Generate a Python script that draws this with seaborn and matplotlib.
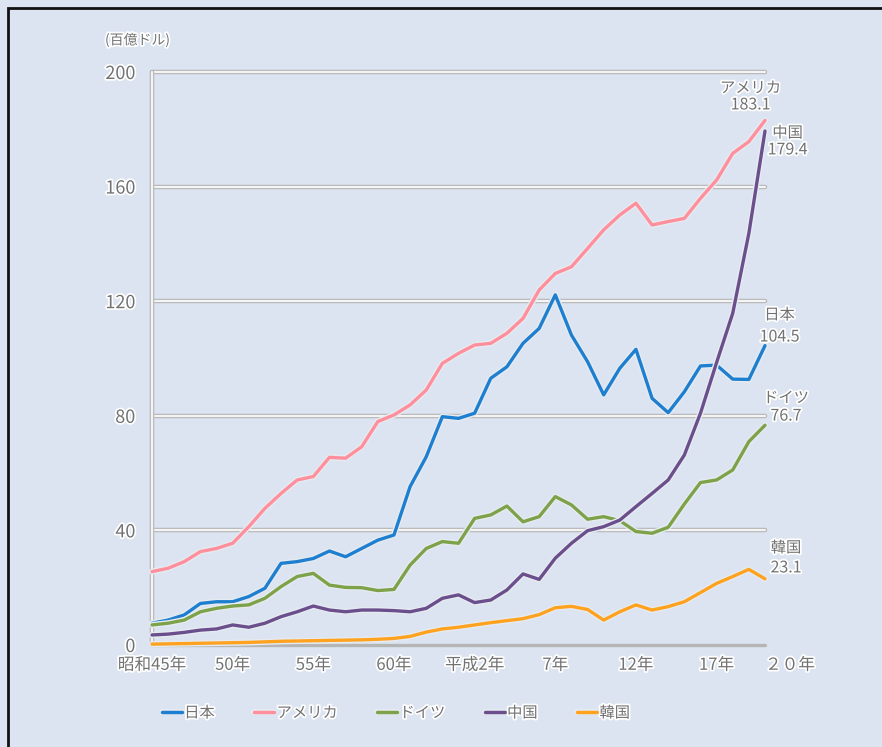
import matplotlib
matplotlib.use("Agg")
import matplotlib.pyplot as plt
import matplotlib.patheffects as pe
from matplotlib.lines import Line2D
from matplotlib.patches import Rectangle
import seaborn as sns
import pandas as pd

# datos (百億ドル)
years = list(range(1970, 2009))
japan = [7.6, 8.7, 10.5, 14.5, 15.1, 15.1, 16.9, 19.8, 28.5, 29.1,
         30.2, 32.8, 30.8, 33.7, 36.6, 38.4, 55.3, 65.7, 79.7, 79.1,
         80.9, 93.1, 97.1, 105.3, 110.5, 122.2, 108.2, 98.9, 87.3, 96.6,
         103.2, 86.1, 81.1, 88.4, 97.4, 97.7, 92.8, 92.7, 104.5]
usa = [25.6, 26.8, 29.1, 32.6, 33.7, 35.5, 41.3, 47.7, 52.9, 57.6,
       58.8, 65.5, 65.2, 69.2, 78.0, 80.3, 83.8, 89.0, 98.3, 101.8,
       104.7, 105.3, 108.8, 114.0, 123.9, 129.7, 132.0, 138.4, 144.9, 150.1,
       154.2, 146.6, 147.8, 148.9, 155.9, 162.3, 171.6, 175.7, 183.1]
germany = [7.0, 7.6, 8.7, 11.6, 12.8, 13.6, 14.0, 16.3, 20.4, 23.9,
           25.0, 20.9, 20.1, 20.0, 19.0, 19.4, 27.9, 33.7, 36.1, 35.5,
           44.2, 45.4, 48.5, 43.0, 44.8, 51.8, 48.9, 43.9, 44.8, 43.4,
           39.6, 39.0, 41.1, 49.2, 56.7, 57.6, 61.1, 71.0, 76.7]
china = [3.5, 3.8, 4.4, 5.2, 5.6, 7.0, 6.2, 7.6, 9.9, 11.6,
         13.6, 12.2, 11.6, 12.2, 12.2, 12.0, 11.6, 12.8, 16.3, 17.5,
         14.8, 15.7, 19.2, 24.8, 22.9, 30.3, 35.5, 39.9, 41.3, 43.6,
         48.3, 52.9, 57.6, 66.3, 80.9, 98.6, 115.8, 143.7, 179.4]
korea = [0.3, 0.4, 0.5, 0.6, 0.7, 0.8, 0.9, 1.1, 1.3, 1.4,
         1.5, 1.6, 1.7, 1.8, 2.0, 2.3, 3.0, 4.5, 5.6, 6.2,
         7.0, 7.8, 8.5, 9.2, 10.6, 13.0, 13.5, 12.4, 8.7, 11.6,
         14.0, 12.2, 13.4, 15.1, 18.3, 21.5, 23.9, 26.4, 23.1]

paises = ["日本", "アメリカ", "ドイツ", "中国", "韓国"]
colores = ["#1e7fd0", "#ff8f9c", "#7da24a", "#6b4f8c", "#ffa21f"]
tick_years = [1970, 1975, 1980, 1985, 1990, 1995, 2000, 2005, 2008]
tick_labels = ["昭和45年", "50年", "55年", "60年", "平成2年", "7年", "12年", "17年", "２０年"]
y_ticks = [0, 40, 80, 120, 160, 200]

datos = pd.DataFrame({"año": years * 5,
                      "valor": japan + usa + germany + china + korea,
                      "pais": sum([[p] * len(years) for p in paises], [])})

fondo = "#dbe4f0"
gris = "#727272"
sns.set_style("white")
plt.rcParams["font.family"] = ["Noto Sans CJK JP", "DejaVu Sans"]

fig = plt.figure(figsize=(8.82, 7.47), dpi=100, facecolor=fondo)
ax = fig.add_axes([152 / 882, 102 / 747, 613 / 882, 573 / 747])
ax.set_facecolor(fondo)

halo_txt = [pe.withStroke(linewidth=2.5, foreground="white")]
doble = [pe.Stroke(linewidth=3.2, foreground="#b5b5b5"),
         pe.Stroke(linewidth=1.6, foreground="#f4f4f4")]

# lineas de la grilla (doble linea gris/blanca)
for v in y_ticks[1:]:
    ax.axhline(v, color="#b5b5b5", lw=3.2, zorder=1, clip_on=False, path_effects=doble)
ax.axvline(1970, color="#b5b5b5", lw=3.2, zorder=1, clip_on=False, path_effects=doble)
ax.axhline(0, color="#b5b5b5", lw=2.4, zorder=1, clip_on=False)

sns.lineplot(data=datos, x="año", y="valor", hue="pais", hue_order=paises,
             palette=colores, linewidth=2.4, legend=False, ax=ax, zorder=3)
for ln in ax.lines[-5:]:
    ln.set_clip_on(False)
    ln.set_path_effects([pe.Stroke(linewidth=4.4, foreground="#e6ebf1"), pe.Normal()])

ax.set_xlim(1970, 2008)
ax.set_ylim(0, 200)
for s in ax.spines.values():
    s.set_visible(False)
ax.set_xlabel("")
ax.set_ylabel("")

ax.set_yticks(y_ticks)
ax.set_yticklabels([str(v) for v in y_ticks], fontsize=13, color=gris)
ax.tick_params(axis="y", length=0, pad=12)
ax.set_xticks(tick_years)
ax.set_xticklabels(tick_labels, fontsize=12, color=gris)
ax.set_xticks(years, minor=True)
ax.tick_params(axis="x", which="major", length=7, width=1.2, color="#9a9a9a",
               direction="inout", pad=5)
ax.tick_params(axis="x", which="minor", length=4, width=1, color="#b0b0b0",
               direction="out")
for t in ax.get_yticklabels() + ax.get_xticklabels():
    t.set_path_effects(halo_txt)
ax.get_xticklabels()[-1].set_horizontalalignment("left")

fig.text(105 / 882, 1 - 40 / 747, "(百億ドル)", fontsize=10, color=gris,
         va="center", path_effects=halo_txt)

# etiquetas finales
finales = [("アメリカ", "183.1", 2007.1, 194.4, 188.5),
           ("中国", "179.4", 2009.4, 178.7, 172.8),
           ("日本", "104.5", 2008.9, 115.2, 107.5),
           ("ドイツ", "76.7", 2009.3, 86.2, 79.9),
           ("韓国", "23.1", 2009.3, 33.9, 26.9)]
for nombre, valor, xx, y1, y2 in finales:
    ax.text(xx, y1, nombre, fontsize=11, color=gris, ha="center", va="center",
            path_effects=halo_txt, clip_on=False)
    ax.text(xx, y2, valor, fontsize=11.5, color=gris, ha="center", va="center",
            path_effects=halo_txt, clip_on=False)

# leyenda
handles = [Line2D([0], [0], color=c, lw=2.5,
                  path_effects=[pe.Stroke(linewidth=4.4, foreground="#e6ebf1"), pe.Normal()])
           for c in colores]
leg = fig.legend(handles, paises, loc="center", bbox_to_anchor=(396 / 882, 34 / 747),
                 ncol=5, frameon=False, fontsize=11, handlelength=1.3,
                 handletextpad=0.15, columnspacing=2.6)
for t in leg.get_texts():
    t.set_color(gris)
    t.set_path_effects(halo_txt)

# marco
fig.add_artist(Rectangle((8 / 882, -0.05), 1.2, 1.05 - 8 / 747,
                         transform=fig.transFigure, fill=False,
                         edgecolor="#111111", lw=2))

fig.savefig("out.png", dpi=100, facecolor=fondo)
